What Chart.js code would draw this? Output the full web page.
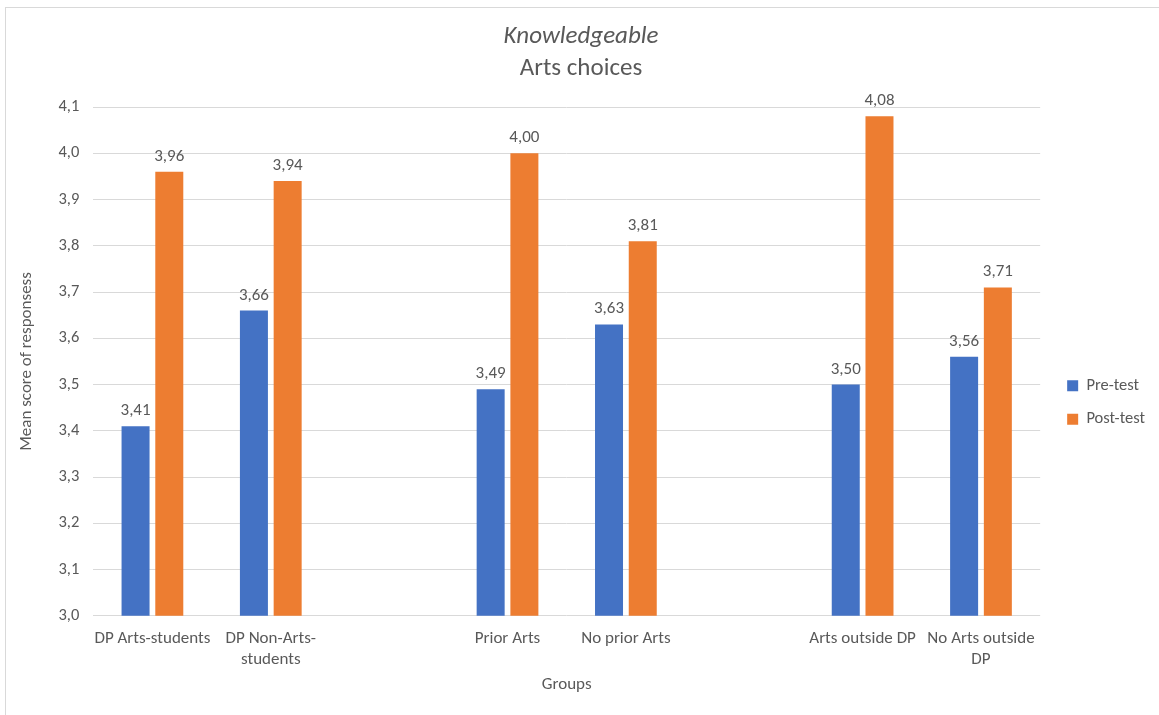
<!DOCTYPE html>
<html>
<head>
<meta charset="utf-8">
<script src="https://cdn.jsdelivr.net/npm/chart.js@4/dist/chart.umd.min.js"></script>
<style>
  html, body { margin: 0; padding: 0; background: #fff; }
  #wrap { width: 1159px; height: 715px; position: relative; }
</style>
</head>
<body>
<div id="wrap"><canvas id="c" width="1159" height="715"></canvas></div>
<script>
const categories = [
  "DP Arts-students",
  ["DP Non-Arts-", "students"],
  "",
  "Prior Arts",
  "No prior Arts",
  "",
  "Arts outside DP",
  ["No Arts outside", "DP"]
];
const preTest  = [3.41, 3.66, null, 3.49, 3.63, null, 3.50, 3.56];
const postTest = [3.96, 3.94, null, 4.00, 3.81, null, 4.08, 3.71];
const seriesNames = ["Pre-test", "Post-test"];
const yMin = 3.0, yMax = 4.1, yStep = 0.1;

const FONT = "Carlito, Lato, 'Liberation Sans', sans-serif";
const TXT = "#595959";
const fmt = v => Number(v).toFixed(2).replace('.', ',');

const valueLabels = {
  id: 'valueLabels',
  afterDatasetsDraw(chart) {
    const ctx = chart.ctx;
    ctx.save();
    ctx.font = "17px " + FONT;
    ctx.fillStyle = TXT;
    ctx.textAlign = 'center';
    ctx.textBaseline = 'alphabetic';
    chart.data.datasets.forEach((ds, i) => {
      const meta = chart.getDatasetMeta(i);
      meta.data.forEach((el, j) => {
        const v = ds.data[j];
        if (v === null || v === undefined) return;
        ctx.fillText(fmt(v), el.x, el.y - 11);
      });
    });
    ctx.restore();
  }
};

const frame = {
  id: 'frame',
  beforeDraw(chart) {
    const ctx = chart.ctx;
    ctx.save();
    ctx.fillStyle = '#fff';
    ctx.fillRect(0, 0, chart.width, chart.height);
    ctx.strokeStyle = '#d9d9d9';
    ctx.lineWidth = 1;
    ctx.strokeRect(5.5, 7.5, chart.width + 10, chart.height + 10);
    ctx.restore();
  }
};

const legendShift = {
  id: 'legendShift',
  afterLayout(chart) {
    const l = chart.legend;
    if (l) { l.left += 10; l.right += 10; }
  }
};

new Chart(document.getElementById('c'), {
  type: 'bar',
  data: {
    labels: categories,
    datasets: [
      { label: seriesNames[0], data: preTest, backgroundColor: '#4472c4', borderWidth: 0 },
      { label: seriesNames[1], data: postTest, backgroundColor: '#ed7d31', borderWidth: 0 }
    ]
  },
  options: {
    responsive: false,
    animation: false,
    devicePixelRatio: 1,
    layout: { padding: { top: 12, left: 17, right: 14, bottom: 20 } },
    datasets: { bar: { categoryPercentage: 0.57, barPercentage: 0.83 } },
    plugins: {
      title: {
        display: true,
        text: 'Knowledgeable',
        color: TXT,
        font: { family: FONT, size: 25, style: 'italic', weight: 'normal' },
        padding: { top: 10, bottom: 2 }
      },
      subtitle: {
        display: true,
        text: 'Arts choices',
        color: TXT,
        font: { family: FONT, size: 25, weight: 'normal' },
        padding: { top: 0, bottom: 23 }
      },
      legend: {
        position: 'right',
        title: {
          display: true,
          text: ' ',
          font: { family: FONT, size: 10 },
          padding: { top: 43, bottom: 43 }
        },
        labels: {
          color: TXT,
          font: { family: FONT, size: 16.5 },
          boxWidth: 11,
          boxHeight: 11,
          padding: 17
        }
      },
      tooltip: { enabled: false }
    },
    scales: {
      x: {
        grid: { display: false },
        border: { display: false },
        ticks: {
          color: TXT,
          font: { family: FONT, size: 17 },
          maxRotation: 0,
          autoSkip: false,
          padding: 5
        },
        title: {
          display: true,
          text: 'Groups',
          color: TXT,
          font: { family: FONT, size: 17 },
          padding: { top: 0, bottom: 0 }
        }
      },
      y: {
        min: yMin,
        max: yMax,
        grid: { color: '#d9d9d9', drawTicks: false },
        border: { display: false },
        ticks: {
          stepSize: yStep,
          color: TXT,
          font: { family: FONT, size: 16.5 },
          padding: 14,
          callback: v => Number(v).toFixed(1).replace('.', ',')
        },
        title: {
          display: true,
          text: 'Mean score of responsess',
          color: TXT,
          font: { family: FONT, size: 17 },
          padding: { top: 0, bottom: 7 }
        }
      }
    }
  },
  plugins: [frame, legendShift, valueLabels]
});
</script>
</body>
</html>
